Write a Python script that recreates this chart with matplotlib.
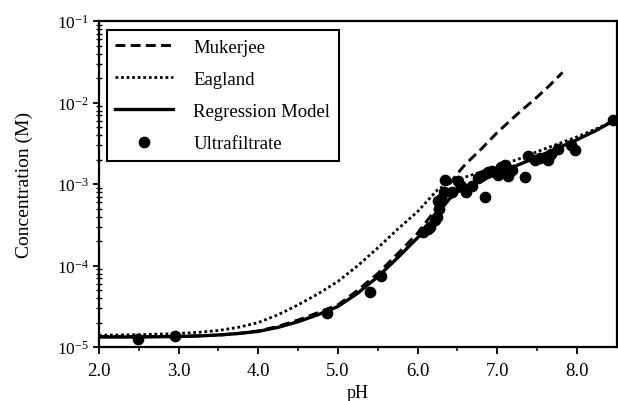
import matplotlib
matplotlib.use("Agg")
import matplotlib.pyplot as plt
from matplotlib.ticker import FixedLocator, LogLocator, NullFormatter

plt.rcParams["font.family"] = ["Liberation Serif", "DejaVu Serif"]
plt.rcParams["mathtext.fontset"] = "custom"
plt.rcParams["mathtext.rm"] = "Liberation Serif"
plt.rcParams["mathtext.it"] = "Liberation Serif:italic"
plt.rcParams["mathtext.bf"] = "Liberation Serif:bold"

# Mukerjee model
muk_ph = [2.0, 2.5, 3.0, 3.5, 3.75, 4.0, 4.25, 4.5, 4.75, 5.0, 5.25, 5.5,
          5.75, 6.0, 6.2, 6.3, 6.4, 6.5, 6.6, 6.8, 7.0, 7.25, 7.5, 7.65, 7.82]
muk_c = [1.35e-5, 1.35e-5, 1.36e-5, 1.4e-5, 1.47e-5, 1.58e-5, 1.8e-5, 2.15e-5,
         2.65e-5, 3.3e-5, 5.0e-5, 8.0e-5, 1.4e-4, 2.5e-4, 4.5e-4, 6.8e-4,
         1.0e-3, 1.35e-3, 1.75e-3, 2.7e-3, 4.3e-3, 7.2e-3, 1.17e-2, 1.6e-2,
         2.35e-2]

# Eagland model
eag_ph = [2.0, 2.5, 3.0, 3.25, 3.5, 3.75, 4.0, 4.25, 4.5, 4.75, 5.0, 5.25,
          5.5, 5.75, 6.0, 6.1, 6.25, 6.4, 6.6, 7.0, 7.25, 7.5, 8.0, 8.25, 8.5]
eag_c = [1.4e-5, 1.42e-5, 1.47e-5, 1.52e-5, 1.6e-5, 1.75e-5, 2.0e-5, 2.5e-5,
         3.3e-5, 4.5e-5, 6.4e-5, 1.0e-4, 1.65e-4, 2.8e-4, 4.6e-4, 5.9e-4,
         8.5e-4, 1.05e-3, 1.22e-3, 1.65e-3, 2.0e-3, 2.5e-3, 3.8e-3, 4.8e-3,
         6.2e-3]

# Regression model
reg_ph = [2.0, 2.5, 3.0, 3.25, 3.5, 3.75, 4.0, 4.25, 4.5, 4.75, 5.0, 5.25,
          5.5, 5.75, 6.0, 6.1, 6.2, 6.3, 6.4, 6.5, 6.75, 7.0, 7.25, 7.5, 7.75,
          8.0, 8.25, 8.5]
reg_c = [1.33e-5, 1.33e-5, 1.35e-5, 1.37e-5, 1.41e-5, 1.47e-5, 1.56e-5,
         1.75e-5, 2.05e-5, 2.5e-5, 3.15e-5, 4.6e-5, 7.3e-5, 1.25e-4, 2.2e-4,
         2.75e-4, 3.5e-4, 5.0e-4, 6.6e-4, 8.0e-4, 1.05e-3, 1.35e-3, 1.7e-3,
         2.15e-3, 2.75e-3, 3.5e-3, 4.6e-3, 6.3e-3]

# Ultrafiltrate measurements
uf_ph = [2.49, 2.95, 4.86, 5.40, 5.54, 6.07, 6.13, 6.16, 6.22, 6.24, 6.27,
         6.26, 6.30, 6.33, 6.35, 6.43, 6.51, 6.54, 6.61, 6.68, 6.76, 6.80,
         6.85, 6.89, 6.93, 7.01, 7.05, 7.10, 7.14, 7.18, 7.35, 7.39, 7.47,
         7.54, 7.64, 7.68, 7.76, 7.93, 7.98, 8.45]
uf_c = [1.26e-5, 1.36e-5, 2.6e-5, 4.7e-5, 7.4e-5, 2.6e-4, 2.8e-4, 3.0e-4,
        3.6e-4, 4.0e-4, 4.9e-4, 6.2e-4, 6.6e-4, 8.1e-4, 1.12e-3, 8.1e-4,
        1.08e-3, 9.5e-4, 8.0e-4, 9.5e-4, 1.2e-3, 1.25e-3, 6.9e-4, 1.4e-3,
        1.45e-3, 1.3e-3, 1.6e-3, 1.7e-3, 1.25e-3, 1.5e-3, 1.22e-3, 2.2e-3,
        2.0e-3, 2.1e-3, 2.0e-3, 2.35e-3, 2.7e-3, 3.0e-3, 2.6e-3, 6.2e-3]

x_ticks = [2.0, 3.0, 4.0, 5.0, 6.0, 7.0, 8.0]
x_tick_labels = ["2.0", "3.0", "4.0", "5.0", "6.0", "7.0", "8.0"]

fig = plt.figure(figsize=(6.18, 4.02), dpi=100)
ax = fig.add_axes([0.160, 0.134, 0.838, 0.811])

ax.plot(muk_ph, muk_c, color="black", lw=2.1, linestyle=(0, (3.4, 1.8)),
        label="Mukerjee")
ax.plot(eag_ph, eag_c, color="black", lw=2.0, linestyle=(0, (1, 1)),
        label="Eagland")
ax.plot(reg_ph, reg_c, color="black", lw=2.4, linestyle="-",
        label="Regression Model")
ax.plot(uf_ph, uf_c, linestyle="none", marker="o", markersize=7.4,
        color="black", label="Ultrafiltrate")

ax.set_yscale("log")
ax.set_xlim(2.0, 8.5)
ax.set_ylim(1e-5, 1e-1)

ax.xaxis.set_major_locator(FixedLocator(x_ticks))
ax.set_xticklabels(x_tick_labels)
ax.xaxis.set_minor_locator(FixedLocator([2.5, 3.5, 4.5, 5.5, 6.5, 7.5]))
ax.yaxis.set_major_locator(LogLocator(base=10, numticks=10))
ax.yaxis.set_minor_locator(LogLocator(base=10, subs=range(2, 10), numticks=10))
ax.yaxis.set_minor_formatter(NullFormatter())

ax.tick_params(axis="x", which="major", direction="out", length=5, width=1.3,
               labelsize=13.5, pad=6)
ax.tick_params(axis="x", which="minor", direction="out", length=3, width=1.1)
ax.tick_params(axis="y", which="major", direction="out", length=4, width=1.3,
               labelsize=12.5, pad=3)
ax.tick_params(axis="y", which="minor", direction="inout", length=4, width=1.0)

for side in ax.spines.values():
    side.set_linewidth(1.6)

ax.set_xlabel("pH", fontsize=13, labelpad=3)
ax.set_ylabel("Concentration (M)", fontsize=14, labelpad=17)

leg = ax.legend(loc="upper left", bbox_to_anchor=(0.0154, 0.972),
                borderaxespad=0, fontsize=13.5, handlelength=3.1,
                handletextpad=1.05, labelspacing=0.8, borderpad=0.45,
                fancybox=False, framealpha=1, edgecolor="black")
leg.get_frame().set_linewidth(1.5)

fig.savefig("out.png", dpi=100)
